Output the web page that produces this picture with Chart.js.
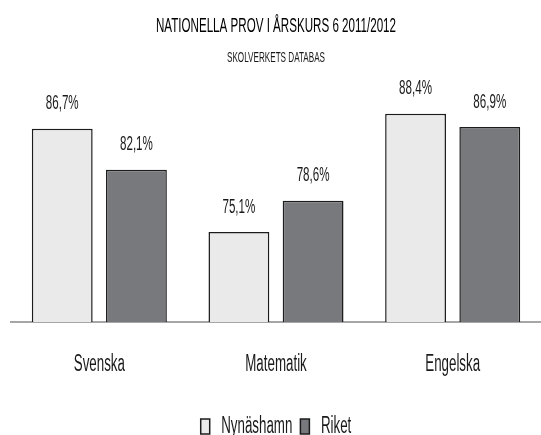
<!DOCTYPE html>
<html>
<head>
<meta charset="utf-8">
<script src="https://cdn.jsdelivr.net/npm/chart.js@4.4.0/dist/chart.umd.min.js"></script>
<style>
  html, body { margin: 0; padding: 0; background: #fff; }
  #wrap { width: 541px; height: 435px; position: relative; }
</style>
</head>
<body>
<div id="wrap"><canvas id="myChart"></canvas></div>
<script>
var amnen = ['Svenska', 'Matematik', 'Engelska'];
var nynashamn = [86.7, 75.1, 88.4];
var riket = [82.1, 78.6, 86.9];

var typsnitt = "'Liberation Sans', Arial, sans-serif";

// originalet har smal text (Calibri, hoptryckt) - trycker ihop all text i sidled
var K = 0.58;
var canvas = document.getElementById('myChart');
var c2d = canvas.getContext('2d');
var origFill = c2d.fillText.bind(c2d);
var origMeasure = c2d.measureText.bind(c2d);
c2d.measureText = function(t) {
  var m = origMeasure(t);
  return {
    width: m.width * K,
    actualBoundingBoxAscent: m.actualBoundingBoxAscent,
    actualBoundingBoxDescent: m.actualBoundingBoxDescent,
    actualBoundingBoxLeft: m.actualBoundingBoxLeft * K,
    actualBoundingBoxRight: m.actualBoundingBoxRight * K
  };
};
c2d.fillText = function(t, x, y, maxWidth) {
  var w = origMeasure(t).width * K;
  if (maxWidth !== undefined && maxWidth < w) w = maxWidth;
  origFill(t, x, y, Math.max(w, 0.1));
};

// skriver ut värdena ovanför staplarna
var etiketter = {
  id: 'etiketter',
  afterDatasetsDraw: function(chart) {
    var ctx = chart.ctx;
    ctx.save();
    ctx.font = '20px ' + typsnitt;
    ctx.fillStyle = '#1a1a1a';
    ctx.textAlign = 'center';
    ctx.textBaseline = 'middle';
    chart.data.datasets.forEach(function(ds, i) {
      chart.getDatasetMeta(i).data.forEach(function(bar, j) {
        var txt = ds.data[j].toFixed(1).replace('.', ',') + '%';
        ctx.fillText(txt, bar.x, bar.y - 25);
      });
    });
    ctx.restore();
  }
};

var chartdata = {
  labels: amnen,
  datasets: [
    {
      label: 'Nynäshamn',
      data: nynashamn,
      backgroundColor: '#eaeaea',
      borderColor: '#1c1c1c',
      borderWidth: 1.5,
      borderSkipped: 'bottom',
      categoryPercentage: 0.84,
      barPercentage: 0.82
    },
    {
      label: 'Riket',
      data: riket,
      backgroundColor: '#78797d',
      borderColor: '#1c1c1c',
      borderWidth: 1.5,
      borderSkipped: 'bottom',
      categoryPercentage: 0.84,
      barPercentage: 0.82
    }
  ]
};

var barGraph = new Chart(canvas, {
  type: 'bar',
  data: chartdata,
  plugins: [etiketter],
  options: {
    responsive: true,
    maintainAspectRatio: false,
    animation: false,
    layout: { padding: { left: 11, right: 0, top: 0, bottom: -13 } },
    scales: {
      x: {
        grid: { display: false, drawTicks: false },
        border: { display: true, color: '#a6a6a6', width: 2 },
        ticks: { color: '#1a1a1a', font: { family: typsnitt, size: 23, lineHeight: 1.96 }, padding: 20 }
      },
      y: {
        display: false,
        min: 65,
        max: 90
      }
    },
    plugins: {
      title: {
        display: true,
        text: 'NATIONELLA PROV I ÅRSKURS 6 2011/2012',
        color: '#000',
        font: { family: typsnitt, size: 20, weight: 'normal', lineHeight: 1.2 },
        padding: { top: 14, bottom: 12 }
      },
      subtitle: {
        display: true,
        text: 'SKOLVERKETS DATABAS',
        color: '#1a1a1a',
        font: { family: typsnitt, size: 14, lineHeight: 1.1 },
        padding: { top: 0, bottom: 34 }
      },
      legend: {
        position: 'bottom',
        labels: {
          color: '#1a1a1a',
          font: { family: typsnitt, size: 23 },
          boxWidth: 9,
          boxHeight: 15,
          padding: 8
        }
      },
      tooltip: { enabled: false }
    }
  }
});
</script>
</body>
</html>
